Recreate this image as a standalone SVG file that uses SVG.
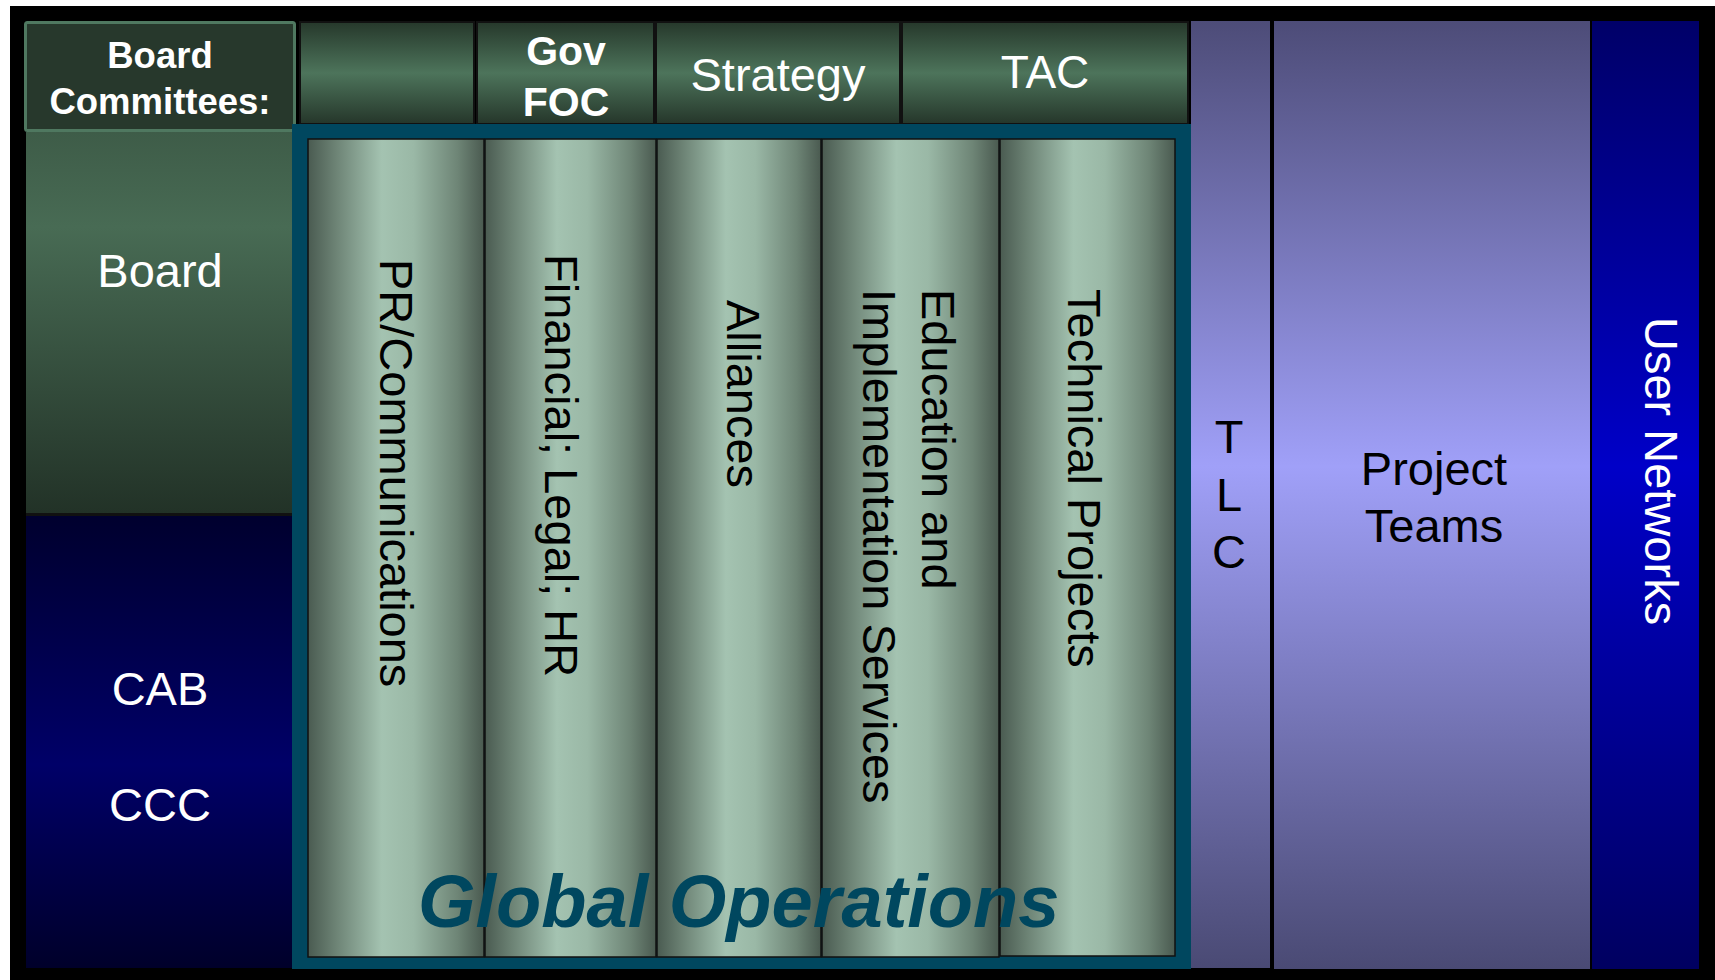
<svg xmlns="http://www.w3.org/2000/svg" width="1715" height="980" viewBox="0 0 1715 980">
<defs>
<linearGradient id="gTop" x1="0" y1="0" x2="0" y2="1">
<stop offset="0" stop-color="#26382b"/><stop offset="0.5" stop-color="#4d745b"/><stop offset="1" stop-color="#25362a"/>
</linearGradient>
<linearGradient id="gBoard" x1="0" y1="0" x2="0" y2="1">
<stop offset="0" stop-color="#3e5c48"/><stop offset="0.25" stop-color="#486b54"/><stop offset="1" stop-color="#223227"/>
</linearGradient>
<linearGradient id="gCab" x1="0" y1="0" x2="0" y2="1">
<stop offset="0" stop-color="#00002e"/><stop offset="0.55" stop-color="#000068"/><stop offset="1" stop-color="#00002a"/>
</linearGradient>
<linearGradient id="gCol" x1="0" y1="0" x2="1" y2="0">
<stop offset="0" stop-color="#4a5b51"/><stop offset="0.15" stop-color="#6b8173"/><stop offset="0.42" stop-color="#a4c3b1"/><stop offset="0.6" stop-color="#9ab8a6"/><stop offset="0.85" stop-color="#6e8576"/><stop offset="1" stop-color="#4a5a50"/>
</linearGradient>
<linearGradient id="gPurple" x1="0" y1="0" x2="0" y2="1">
<stop offset="0" stop-color="#4d4c78"/><stop offset="0.47" stop-color="#a0a0f8"/><stop offset="1" stop-color="#4a4a74"/>
</linearGradient>
<linearGradient id="gBlue" x1="0" y1="0" x2="0" y2="1">
<stop offset="0" stop-color="#000068"/><stop offset="0.47" stop-color="#0000c8"/><stop offset="1" stop-color="#000060"/>
</linearGradient>
</defs>
<style>
.t{font-family:"Liberation Sans",Arial,sans-serif;}
.w{fill:#ffffff;}
.k{fill:#000000;}
.b{font-weight:bold;}
.c{text-anchor:middle;}
.s47{font-size:47px;}
.col{fill:url(#gCol);stroke:#111;stroke-width:1.5;}
.top{fill:url(#gTop);stroke:#111;stroke-width:2;}
</style>
<rect x="10" y="6" width="1705" height="974" fill="#000"/>

<g id="board-committees">
<rect x="25.5" y="22.5" width="269" height="108" fill="#27382c" stroke="#4f7860" stroke-width="3" rx="2"/>
<text class="t w b c" x="160" y="68" font-size="36.5">Board</text>
<text class="t w b c" x="160" y="114" font-size="36.5">Committees:</text>
</g>
<g id="committee-blank"><rect class="top" x="300" y="22" width="174" height="102"/></g>
<g id="committee-gov-foc">
<rect class="top" x="477" y="22" width="177" height="102"/>
<text class="t w b c" x="566" y="65" font-size="41">Gov</text>
<text class="t w b c" x="566" y="116" font-size="41">FOC</text>
</g>
<g id="committee-strategy">
<rect class="top" x="656" y="22" width="244" height="102"/>
<text class="t w c s47" x="778" y="91">Strategy</text>
</g>
<g id="committee-tac">
<rect class="top" x="902" y="22" width="286" height="102"/>
<text class="t w c" x="1045" y="88" font-size="46">TAC</text>
</g>

<g id="board">
<rect x="26" y="132" width="266" height="381" fill="url(#gBoard)"/>
<text class="t w c s47" x="160" y="287">Board</text>
</g>
<g id="cab-ccc">
<rect x="26" y="513" width="266" height="3" fill="#111"/>
<rect x="26" y="516" width="266" height="452" fill="url(#gCab)"/>
<text class="t w c s47" x="160" y="705">CAB</text>
<text class="t w c s47" x="160" y="821">CCC</text>
</g>

<g id="global-operations">
<rect x="292" y="124" width="899" height="845" fill="#00475f"/>
<g id="pr-communications">
<rect class="col" x="308" y="139" width="176" height="818"/>
<text class="t k s47" transform="translate(380,259) rotate(90)">PR/Communications</text>
</g>
<g id="financial-legal-hr">
<rect class="col" x="485" y="139" width="171" height="818"/>
<text class="t k s47" transform="translate(545,254) rotate(90)">Financial; Legal; HR</text>
</g>
<g id="alliances">
<rect class="col" x="657" y="139" width="164" height="818"/>
<text class="t k s47" transform="translate(727,300) rotate(90)">Alliances</text>
</g>
<g id="education-implementation">
<rect class="col" x="822" y="139" width="177" height="818"/>
<text class="t k s47" transform="translate(922,289) rotate(90)">Education and</text>
<text class="t k s47" transform="translate(863,289) rotate(90)">Implementation Services</text>
</g>
<g id="technical-projects">
<rect class="col" x="1000" y="139" width="175" height="817"/>
<text class="t k s47" transform="translate(1068,289) rotate(90)">Technical Projects</text>
</g>
<text class="t b" x="418" y="927" font-size="74" font-style="italic" fill="#00475f">Global Operations</text>
</g>

<g id="tlc">
<rect x="1191" y="21" width="79" height="947" fill="url(#gPurple)"/>
<text class="t k c s47" x="1229" y="453">T</text>
<text class="t k c s47" x="1229" y="511">L</text>
<text class="t k c s47" x="1229" y="568">C</text>
</g>
<g id="project-teams">
<rect x="1274" y="21" width="316" height="948" fill="url(#gPurple)"/>
<text class="t k c s47" x="1434" y="485">Project</text>
<text class="t k c s47" x="1434" y="542">Teams</text>
</g>
<g id="user-networks">
<rect x="1592" y="21" width="107" height="948" fill="url(#gBlue)"/>
<text class="t w s47" transform="translate(1645,317) rotate(90)">User Networks</text>
</g>
<g id="connectors"/>
</svg>
